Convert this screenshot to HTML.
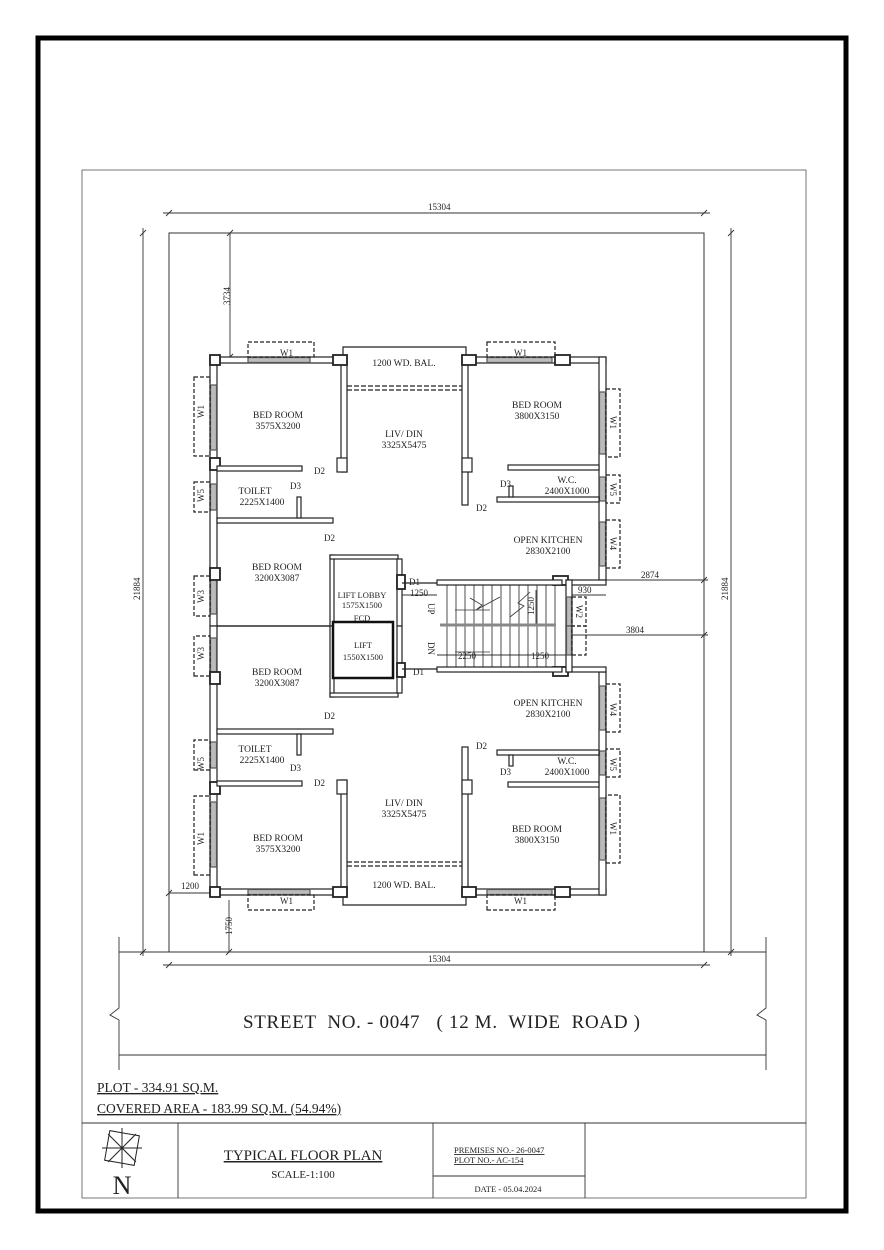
<!DOCTYPE html>
<html><head><meta charset="utf-8"><style>
html,body{margin:0;padding:0;background:#fff}
svg{display:block}
text{font-family:"Liberation Serif",serif;fill:#222}
.s{font-family:"Liberation Sans",sans-serif}
</style></head><body>
<svg width="884" height="1250" viewBox="0 0 884 1250" xmlns="http://www.w3.org/2000/svg">
<defs>
<g id="half" fill="#fff" stroke="#222" stroke-width="1.2">
  <rect x="210" y="357" width="7" height="269"/>
  <rect x="210.5" y="385" width="6" height="65" fill="#bbb" stroke="#555"/>
  <rect x="210.5" y="484" width="6" height="26" fill="#bbb" stroke="#555"/>
  <rect x="210.5" y="578" width="6" height="36" fill="#bbb" stroke="#555"/>
  <rect x="194" y="377" width="16" height="79" fill="none" stroke-dasharray="4,2"/>
  <rect x="194" y="482" width="16" height="30" fill="none" stroke-dasharray="4,2"/>
  <rect x="194" y="576" width="16" height="40" fill="none" stroke-dasharray="4,2"/>
  <rect x="210" y="357" width="133" height="6"/>
  <rect x="248" y="357.5" width="62" height="5" fill="#bbb" stroke="#555"/>
  <rect x="248" y="342" width="66" height="15" fill="none" stroke-dasharray="4,2"/>
  <polyline points="343,357 343,347 466,347 466,357" fill="none"/>
  <line x1="347" y1="386" x2="462" y2="386" stroke-dasharray="5,2"/>
  <line x1="347" y1="390" x2="462" y2="390" stroke-dasharray="5,2"/>
  <rect x="341" y="357" width="6" height="115"/>
  <rect x="462" y="357" width="6" height="148"/>
  <rect x="337" y="458" width="10" height="14"/>
  <rect x="462" y="458" width="10" height="14"/>
  <rect x="466" y="357" width="140" height="6"/>
  <rect x="487" y="357.5" width="65" height="5" fill="#bbb" stroke="#555"/>
  <rect x="487" y="342" width="68" height="15" fill="none" stroke-dasharray="4,2"/>
  <rect x="599" y="357" width="7" height="223"/>
  <rect x="599.5" y="392" width="6" height="62" fill="#bbb" stroke="#555"/>
  <rect x="599.5" y="477" width="6" height="24" fill="#bbb" stroke="#555"/>
  <rect x="599.5" y="522" width="6" height="44" fill="#bbb" stroke="#555"/>
  <rect x="606" y="389" width="14" height="68" fill="none" stroke-dasharray="4,2"/>
  <rect x="606" y="475" width="14" height="28" fill="none" stroke-dasharray="4,2"/>
  <rect x="606" y="520" width="14" height="48" fill="none" stroke-dasharray="4,2"/>
  <rect x="210" y="355" width="10" height="10" stroke-width="1.8"/>
  <rect x="210" y="458" width="10" height="12" stroke-width="1.8"/>
  <rect x="210" y="568" width="10" height="12" stroke-width="1.8"/>
  <rect x="333" y="355" width="14" height="10" stroke-width="1.8"/>
  <rect x="462" y="355" width="14" height="10" stroke-width="1.8"/>
  <rect x="555" y="355" width="15" height="10" stroke-width="1.8"/>
  <rect x="553" y="576" width="15" height="9" stroke-width="1.8"/>
  <rect x="217" y="466" width="85" height="5"/>
  <rect x="217" y="518" width="116" height="5"/>
  <rect x="297" y="497" width="4" height="21"/>
  <line x1="217" y1="626" x2="330" y2="626"/>
  <rect x="508" y="465" width="91" height="5"/>
  <rect x="497" y="497" width="102" height="5"/>
  <rect x="509" y="486" width="4" height="11"/>
  <rect x="437" y="580" width="125" height="5"/>
  <rect x="566" y="580" width="40" height="5"/>
  <rect x="566" y="580" width="6" height="46"/>
  <rect x="566.5" y="597" width="5" height="29" fill="#bbb" stroke="#555"/>
  <rect x="572" y="597" width="14" height="29" fill="none" stroke-dasharray="4,2"/>
  <rect x="330" y="555" width="4" height="71"/>
  <rect x="330" y="555" width="68" height="4"/>
  <rect x="397" y="559" width="5" height="67"/>
  <rect x="397" y="575" width="8" height="14" stroke-width="1.8"/>
  <line x1="402" y1="583" x2="437" y2="583"/>
  <g stroke-width="0.8">
    <line x1="447" y1="585" x2="447" y2="626"/><line x1="456" y1="585" x2="456" y2="626"/>
    <line x1="465" y1="585" x2="465" y2="626"/><line x1="474" y1="585" x2="474" y2="626"/>
    <line x1="483" y1="585" x2="483" y2="626"/><line x1="492" y1="585" x2="492" y2="626"/>
    <line x1="501" y1="585" x2="501" y2="626"/><line x1="510" y1="585" x2="510" y2="626"/>
    <line x1="519" y1="585" x2="519" y2="626"/><line x1="528" y1="585" x2="528" y2="626"/>
    <line x1="537" y1="585" x2="537" y2="626"/><line x1="546" y1="585" x2="546" y2="626"/>
    <line x1="555" y1="585" x2="555" y2="626"/>
  </g>
</g>
</defs>

<rect x="38" y="38" width="808" height="1173" fill="none" stroke="#000" stroke-width="5"/>
<rect x="82" y="170" width="724" height="1028" fill="none" stroke="#555" stroke-width="0.8"/>

<rect x="169" y="233" width="535" height="719" fill="none" stroke="#333" stroke-width="1"/>
<g stroke="#333" stroke-width="0.9" fill="none">
  <line x1="163" y1="213" x2="710" y2="213"/>
  <line x1="166" y1="216" x2="172" y2="210"/><line x1="701" y1="216" x2="707" y2="210"/>
  <line x1="163" y1="965" x2="710" y2="965"/>
  <line x1="166" y1="968" x2="172" y2="962"/><line x1="701" y1="968" x2="707" y2="962"/>
  <line x1="143" y1="228" x2="143" y2="956"/>
  <line x1="140" y1="236" x2="146" y2="230"/><line x1="140" y1="955" x2="146" y2="949"/>
  <line x1="731" y1="228" x2="731" y2="956"/>
  <line x1="728" y1="236" x2="734" y2="230"/><line x1="728" y1="955" x2="734" y2="949"/>
  <line x1="230" y1="233" x2="230" y2="357"/>
  <line x1="227" y1="236" x2="233" y2="230"/><line x1="227" y1="360" x2="233" y2="354"/>
  <line x1="606" y1="580" x2="708" y2="580"/>
  <line x1="701" y1="583" x2="707" y2="577"/>
  <line x1="572" y1="635" x2="708" y2="635"/>
  <line x1="701" y1="638" x2="707" y2="632"/>
  <line x1="572" y1="595" x2="606" y2="595"/>
  <line x1="169" y1="893" x2="210" y2="893"/>
  <line x1="166" y1="896" x2="172" y2="890"/>
  <line x1="229" y1="900" x2="229" y2="952"/>
  <line x1="226" y1="955" x2="232" y2="949"/>
  <line x1="402" y1="595" x2="437" y2="595"/>
  <line x1="536" y1="590" x2="536" y2="625"/>
  <line x1="437" y1="655" x2="566" y2="655"/>
  <line x1="119" y1="952" x2="766" y2="952"/>
  <line x1="119" y1="1055" x2="766" y2="1055"/>
  <polyline points="119,937 119,1008 110,1015 119,1020 119,1070"/>
  <polyline points="766,937 766,1008 757,1015 766,1020 766,1070"/>
  <line x1="82" y1="1123" x2="806" y2="1123"/>
  <line x1="178" y1="1123" x2="178" y2="1198"/>
  <line x1="433" y1="1123" x2="433" y2="1198"/>
  <line x1="585" y1="1123" x2="585" y2="1198"/>
  <line x1="433" y1="1176" x2="585" y2="1176"/>
</g>

<use href="#half"/>
<use href="#half" transform="matrix(1,0,0,-1,0,1252)"/>
<line x1="440" y1="625" x2="556" y2="625" stroke="#888" stroke-width="3"/>
<rect x="333" y="622" width="60" height="56" fill="#fff" stroke="#111" stroke-width="2.5"/>
<g stroke="#333" stroke-width="0.8" fill="none">
  <polyline points="470,598 482,605 476,610 500,597"/>
  <polyline points="530,592 518,603 524,606 510,617"/>
  <polyline points="455,610 490,610"/><polyline points="455,652 490,652"/>
</g>

<g font-size="9.5" text-anchor="middle">
  <text x="278" y="418">BED ROOM</text><text x="278" y="429">3575X3200</text>
  <text x="404" y="366">1200 WD. BAL.</text>
  <text x="404" y="437">LIV/ DIN</text><text x="404" y="448">3325X5475</text>
  <text x="537" y="408">BED ROOM</text><text x="537" y="419">3800X3150</text>
  <text x="255" y="494">TOILET</text><text x="262" y="505">2225X1400</text>
  <text x="567" y="483">W.C.</text><text x="567" y="494">2400X1000</text>
  <text x="548" y="543">OPEN KITCHEN</text><text x="548" y="554">2830X2100</text>
  <text x="277" y="570">BED ROOM</text><text x="277" y="581">3200X3087</text>
  <text x="277" y="675">BED ROOM</text><text x="277" y="686">3200X3087</text>
  <text x="548" y="706">OPEN KITCHEN</text><text x="548" y="717">2830X2100</text>
  <text x="255" y="752">TOILET</text><text x="262" y="763">2225X1400</text>
  <text x="567" y="764">W.C.</text><text x="567" y="775">2400X1000</text>
  <text x="404" y="806">LIV/ DIN</text><text x="404" y="817">3325X5475</text>
  <text x="278" y="841">BED ROOM</text><text x="278" y="852">3575X3200</text>
  <text x="537" y="832">BED ROOM</text><text x="537" y="843">3800X3150</text>
  <text x="404" y="888">1200 WD. BAL.</text>
</g>
<g font-size="8.5" class="s" text-anchor="middle">
  <text x="362" y="598">LIFT LOBBY</text><text x="362" y="608">1575X1500</text>
  <text x="362" y="621">FCD</text>
  <text x="363" y="648">LIFT</text><text x="363" y="660">1550X1500</text>
</g>
<g font-size="9" fill="#333">
  <text x="280" y="356">W1</text><text x="514" y="356">W1</text>
  <text x="280" y="904">W1</text><text x="514" y="904">W1</text>
  <text x="314" y="474">D2</text><text x="290" y="489">D3</text>
  <text x="324" y="541">D2</text><text x="409" y="585">D1</text>
  <text x="500" y="487">D3</text><text x="476" y="511">D2</text>
  <text x="413" y="675">D1</text><text x="324" y="719">D2</text>
  <text x="476" y="749">D2</text><text x="500" y="775">D3</text>
  <text x="290" y="771">D3</text><text x="314" y="786">D2</text>
  <text x="410" y="596">1250</text><text x="458" y="659">2250</text>
  <text x="531" y="659">1250</text><text x="578" y="593">930</text>
  <text x="641" y="578">2874</text><text x="626" y="633">3804</text>
  <text x="181" y="889">1200</text>
  <text x="428" y="210">15304</text><text x="428" y="962">15304</text>
</g>
<g font-size="9" fill="#333">
  <text transform="translate(230,305) rotate(-90)">3734</text>
  <text transform="translate(140,600) rotate(-90)">21884</text>
  <text transform="translate(728,600) rotate(-90)">21884</text>
  <text transform="translate(232,935) rotate(-90)">1750</text>
  <text transform="translate(534,615) rotate(-90)">1250</text>
  <text transform="translate(204,418) rotate(-90)">W1</text>
  <text transform="translate(204,502) rotate(-90)">W5</text>
  <text transform="translate(204,603) rotate(-90)">W3</text>
  <text transform="translate(204,660) rotate(-90)">W3</text>
  <text transform="translate(204,770) rotate(-90)">W5</text>
  <text transform="translate(204,845) rotate(-90)">W1</text>
  <text transform="translate(610,416) rotate(90)">W1</text>
  <text transform="translate(610,483) rotate(90)">W5</text>
  <text transform="translate(610,537) rotate(90)">W4</text>
  <text transform="translate(576,605) rotate(90)">W2</text>
  <text transform="translate(610,703) rotate(90)">W4</text>
  <text transform="translate(610,758) rotate(90)">W5</text>
  <text transform="translate(610,822) rotate(90)">W1</text>
  <text transform="translate(428,603) rotate(90)">UP</text>
  <text transform="translate(428,642) rotate(90)">DN</text>
</g>

<text x="243" y="1028" font-size="19" textLength="397" lengthAdjust="spacing" xml:space="preserve">STREET  NO. - 0047   ( 12 M.  WIDE  ROAD )</text>
<text x="97" y="1092" font-size="13.5" text-decoration="underline">PLOT - 334.91 SQ.M.</text>
<text x="97" y="1113" font-size="13.5" text-decoration="underline">COVERED AREA - 183.99 SQ.M. (54.94%)</text>

<g stroke="#222" stroke-width="1" fill="none">
  <rect x="107" y="1133" width="30" height="30" transform="rotate(10 122 1148)"/>
  <line x1="122" y1="1128" x2="122" y2="1168"/><line x1="102" y1="1148" x2="142" y2="1148"/>
  <line x1="108" y1="1134" x2="136" y2="1162"/><line x1="136" y1="1134" x2="108" y2="1162"/>
</g>
<text x="122" y="1194" font-size="26" text-anchor="middle">N</text>
<text x="303" y="1160" font-size="15" text-anchor="middle" text-decoration="underline">TYPICAL FLOOR PLAN</text>
<text x="303" y="1178" font-size="11" text-anchor="middle">SCALE-1:100</text>
<text x="454" y="1153" font-size="8.5" text-decoration="underline">PREMISES NO.- 26-0047</text>
<text x="454" y="1163" font-size="8.5" text-decoration="underline">PLOT NO.- AC-154</text>
<text x="508" y="1192" font-size="8.5" text-anchor="middle">DATE - 05.04.2024</text>
</svg>
</body></html>
